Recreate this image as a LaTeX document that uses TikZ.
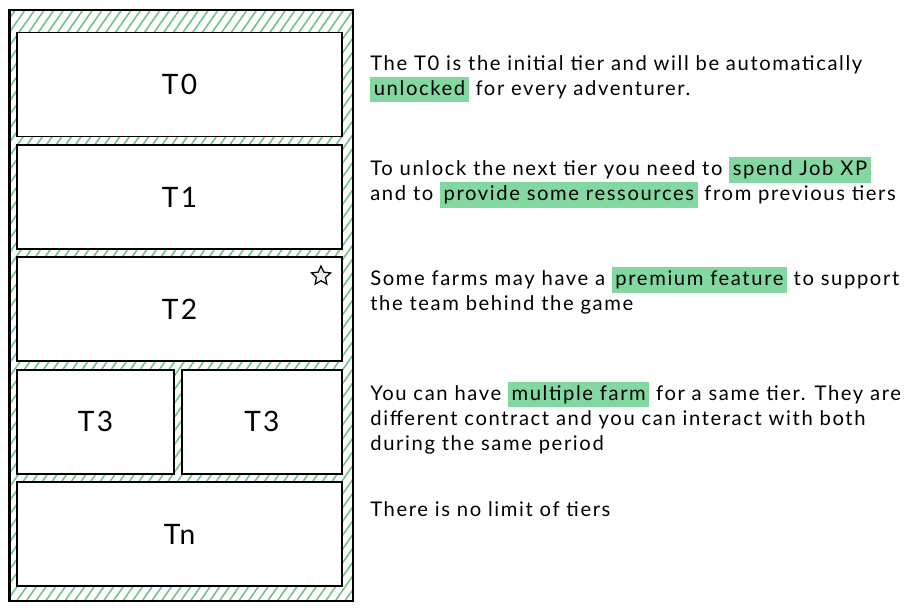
\documentclass[tikz,border=0pt]{standalone}
\usepackage{fontspec}
\setmainfont{Lato}[LetterSpace=8]
\usepackage{xcolor}
\usetikzlibrary{positioning,patterns.meta,shapes.geometric}
\definecolor{hlgreen}{RGB}{130,216,160}
\definecolor{hatchgreen}{RGB}{110,195,135}
\newcommand{\hl}[1]{{\setlength{\fboxsep}{2pt}\smash{\colorbox{hlgreen}{\vphantom{Agy}#1}}}}

\begin{document}
\begin{tikzpicture}[
  tierbox/.style={draw, line width=1.1pt, fill=white, minimum height=2.08cm, font=\fontsize{16}{19}\selectfont},
  note/.style={anchor=west, align=left, inner sep=0pt, font=\fontsize{11.5}{14.2}\selectfont}
]
  \useasboundingbox (0,0) rectangle (18.44,-12.22);
  % hatched frame
  \draw[line width=1.6pt, pattern={Lines[angle=55,distance=4.5pt,line width=0.9pt]}, pattern color=hatchgreen]
    (0.19,-0.2) rectangle (7.06,-12.02);
  % tiers
  \node (t0) [tierbox, minimum width=6.5cm] at (3.59,-1.69) {T0};
  \node (t1) [tierbox, minimum width=6.5cm, below=0.13cm of t0] {T1};
  \node (t2) [tierbox, minimum width=6.5cm, below=0.13cm of t1] {T2};
  \node (t3a) [tierbox, minimum width=3.14cm, below=0.13cm of t2.south west, anchor=north west] {T3};
  \node (t3b) [tierbox, minimum width=3.2cm, right=0.12cm of t3a] {T3};
  \node (tn) [tierbox, minimum width=6.5cm, below=0.13cm of t3a.south west, anchor=north west] {Tn};
  \node (star) [star, star points=5, star point ratio=2.1, draw, line width=0.7pt, fill=gray!15, minimum size=0.4cm, inner sep=0pt] at (6.42,-5.52) {};
  % notes
  \node (p0) [note] at (7.4,-1.54) {The T0 is the initial tier and will be automatically\\\hl{unlocked} for every adventurer.};
  \node (p1) [note] at (7.4,-3.65) {To unlock the next tier you need to \hl{spend Job XP}\\and to \hl{provide some ressources} from previous tiers};
  \node (p2) [note] at (7.4,-5.85) {Some farms may have a \hl{premium feature} to support\\the team behind the game};
  \node (p3) [note] at (7.4,-8.39) {You can have \hl{multiple farm} for a same tier. They are\\different contract and you can interact with both\\during the same period};
  \node (p4) [note] at (7.4,-10.19) {There is no limit of tiers};
\end{tikzpicture}
\end{document}
